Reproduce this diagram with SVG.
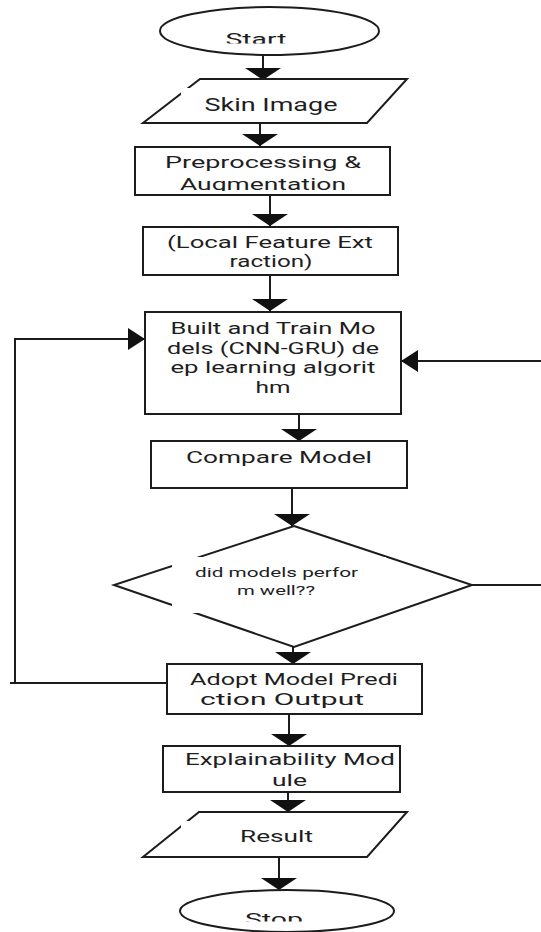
<svg xmlns="http://www.w3.org/2000/svg" width="541" height="932" viewBox="0 0 541 932">
  <style>
    .shape { fill: #ffffff; stroke: #1c1c1c; stroke-width: 2; }
    .mask { fill: #ffffff; stroke: none; }
    .lbl { font-family: Roboto, "Liberation Sans", sans-serif; font-size: 17px; fill: #1e1e1e; text-anchor: middle; }
    .small { font-size: 13px; }
    .wire { fill: none; stroke: #1c1c1c; stroke-width: 2; }
  </style>
  <defs>
    <!-- wide, flat head for the vertical flow arrows -->
    <marker id="headFlat" markerUnits="userSpaceOnUse" viewBox="0 0 12 36" refX="12" refY="18" markerWidth="12" markerHeight="36" orient="auto">
      <path d="M0,0 L12,18 L0,36 Z" fill="#111111"/>
    </marker>
    <!-- compact head for the loop-back arrows -->
    <marker id="headSide" markerUnits="userSpaceOnUse" viewBox="0 0 17 22" refX="17" refY="11" markerWidth="17" markerHeight="22" orient="auto">
      <path d="M0,0 L17,11 L0,22 Z" fill="#111111"/>
    </marker>
    <clipPath id="clipStart"><rect x="150" y="0" width="240" height="43.5"/></clipPath>
    <clipPath id="clipAug"><rect x="140" y="150" width="250" height="41"/></clipPath>
    <clipPath id="clipStop"><rect x="170" y="890" width="240" height="31.5"/></clipPath>
  </defs>

  <!-- connectors -->
  <g id="connectors">
    <line class="wire" x1="263" y1="55" x2="263" y2="80" marker-end="url(#headFlat)"/>
    <line class="wire" x1="260" y1="123" x2="260" y2="146" marker-end="url(#headFlat)"/>
    <line class="wire" x1="270" y1="195" x2="270" y2="226" marker-end="url(#headFlat)"/>
    <line class="wire" x1="270" y1="275" x2="270" y2="311" marker-end="url(#headFlat)"/>
    <line class="wire" x1="299" y1="414" x2="299" y2="441" marker-end="url(#headFlat)"/>
    <line class="wire" x1="292" y1="488" x2="292" y2="526" marker-end="url(#headFlat)"/>
    <line class="wire" x1="293" y1="647" x2="293" y2="664" marker-end="url(#headFlat)"/>
    <line class="wire" x1="289" y1="714" x2="289" y2="746" marker-end="url(#headFlat)"/>
    <line class="wire" x1="288" y1="792" x2="288" y2="812" marker-end="url(#headFlat)"/>
    <line class="wire" x1="279" y1="857" x2="279" y2="890" marker-end="url(#headFlat)"/>
    <!-- "no" branch back to training, left side -->
    <path class="wire" d="M167,683 H10 M15,683 V339 H145" marker-end="url(#headSide)"/>
    <!-- right side branch -->
    <line class="wire" x1="472" y1="585" x2="541" y2="585"/>
    <line class="wire" x1="541" y1="361" x2="401" y2="361" marker-end="url(#headSide)"/>
  </g>

  <g id="start">
    <ellipse class="shape" cx="269.5" cy="31" rx="109.5" ry="24"/>
    <text class="lbl" x="256" y="45" clip-path="url(#clipStart)" textLength="61" lengthAdjust="spacingAndGlyphs">Start</text>
  </g>

  <g id="skin-image">
    <polygon class="shape" points="200,79 407,79 367,123 143,123"/>
    <rect class="mask" x="181" y="88" width="175" height="28"/>
    <text class="lbl" x="271" y="111" style="font-size:18px" textLength="133" lengthAdjust="spacingAndGlyphs">Skin Image</text>
  </g>

  <g id="preprocessing">
    <rect class="shape" x="135" y="147" width="255" height="48"/>
    <text class="lbl" x="263" y="168" textLength="196" lengthAdjust="spacingAndGlyphs">Preprocessing &amp;</text>
    <text class="lbl" x="263" y="190" clip-path="url(#clipAug)" textLength="166" lengthAdjust="spacingAndGlyphs">Augmentation</text>
  </g>

  <g id="feature-extraction">
    <rect class="shape" x="143" y="227" width="255" height="48"/>
    <text class="lbl" x="270" y="248" textLength="206" lengthAdjust="spacingAndGlyphs">(Local Feature Ext</text>
    <text class="lbl" x="271" y="267" textLength="83" lengthAdjust="spacingAndGlyphs">raction)</text>
  </g>

  <g id="train-models">
    <rect class="shape" x="145" y="312" width="256" height="102"/>
    <text class="lbl" x="273" y="334" textLength="205" lengthAdjust="spacingAndGlyphs">Built and Train Mo</text>
    <text class="lbl" x="273" y="354" textLength="212" lengthAdjust="spacingAndGlyphs">dels (CNN-GRU) de</text>
    <text class="lbl" x="273" y="373" textLength="205" lengthAdjust="spacingAndGlyphs">ep learning algorit</text>
    <text class="lbl" x="273" y="393" textLength="35" lengthAdjust="spacingAndGlyphs">hm</text>
  </g>

  <g id="compare-model">
    <rect class="shape" x="151" y="441" width="256" height="47"/>
    <text class="lbl" x="279" y="463" textLength="186" lengthAdjust="spacingAndGlyphs">Compare Model</text>
  </g>

  <g id="decision">
    <polygon class="shape" points="294,526 472,585 294,647 114,585"/>
    <rect class="mask" x="172" y="557" width="214" height="56"/>
    <text class="lbl small" x="276.5" y="577" textLength="163" lengthAdjust="spacingAndGlyphs">did models perfor</text>
    <text class="lbl small" x="276" y="595" textLength="78" lengthAdjust="spacingAndGlyphs">m well??</text>
  </g>

  <g id="adopt-prediction">
    <rect class="shape" x="167" y="664" width="255" height="50"/>
    <text class="lbl" x="294" y="685" textLength="208" lengthAdjust="spacingAndGlyphs">Adopt Model Predi</text>
    <text class="lbl" x="282" y="705" textLength="164" lengthAdjust="spacingAndGlyphs">ction Output</text>
  </g>

  <g id="explainability">
    <rect class="shape" x="163" y="746" width="237" height="46"/>
    <text class="lbl" x="290" y="765" textLength="210" lengthAdjust="spacingAndGlyphs">Explainability Mod</text>
    <text class="lbl" x="289.5" y="786" textLength="35" lengthAdjust="spacingAndGlyphs">ule</text>
  </g>

  <g id="result">
    <polygon class="shape" points="199,812 407,812 367,857 143,857"/>
    <rect class="mask" x="181" y="821" width="175" height="28"/>
    <text class="lbl" x="276.5" y="842" textLength="73" lengthAdjust="spacingAndGlyphs">Result</text>
  </g>

  <g id="stop">
    <ellipse class="shape" cx="287" cy="911" rx="107" ry="21"/>
    <text class="lbl" x="274" y="925" clip-path="url(#clipStop)" textLength="58" lengthAdjust="spacingAndGlyphs">Stop</text>
  </g>
</svg>
